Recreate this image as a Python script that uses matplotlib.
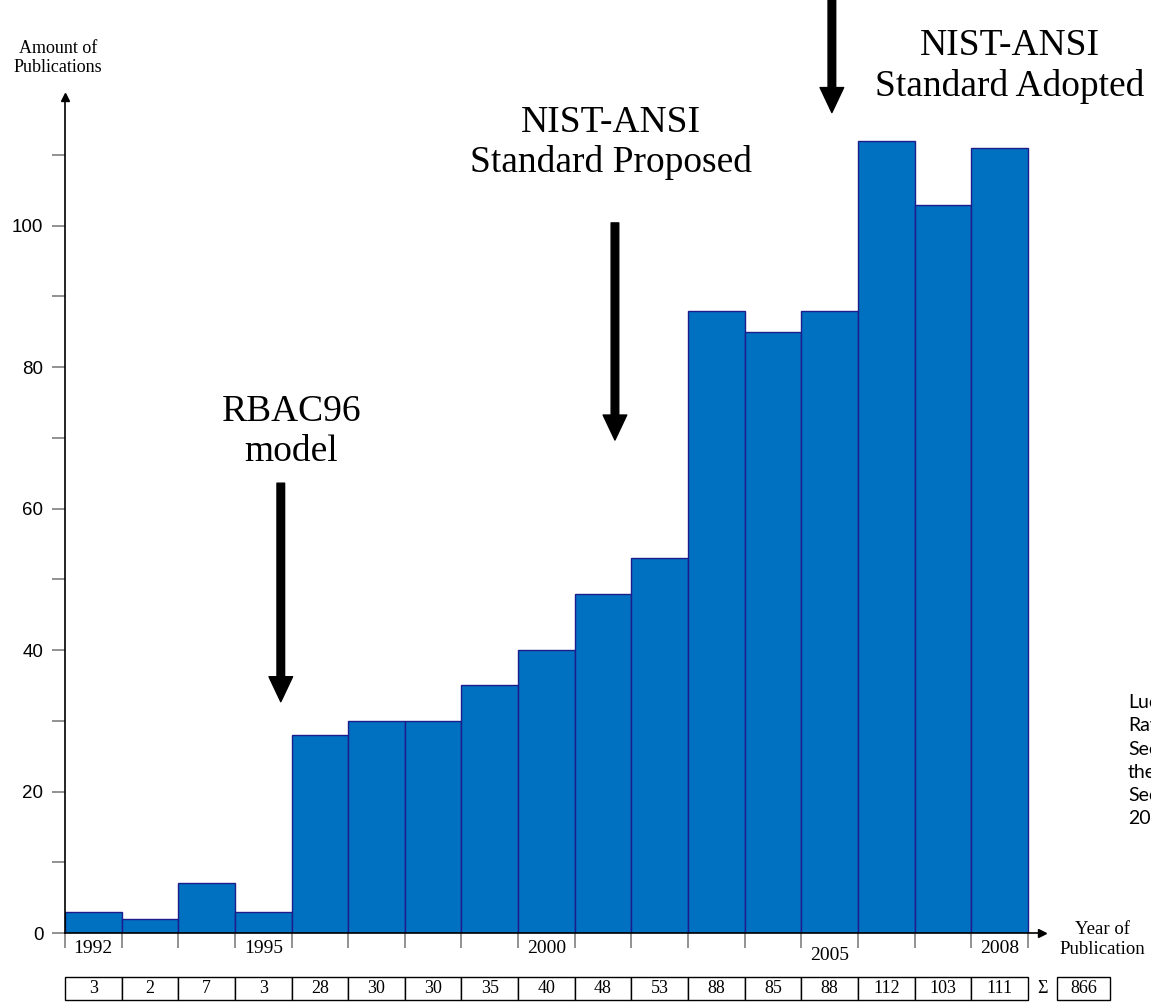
import matplotlib.pyplot as plt
from matplotlib.patches import Rectangle

# data
years = list(range(1992, 2009))
counts = [3, 2, 7, 3, 28, 30, 30, 35, 40, 48, 53, 88, 85, 88, 112, 103, 111]
year_labels = [1992, 1995, 2000, 2005, 2008]
total = sum(counts)

serif = "Liberation Serif"
sans = "Liberation Sans"

fig = plt.figure(figsize=(11.51, 10.05), dpi=100)
ax = fig.add_axes([65 / 1151, 72 / 1005, (1042 - 65) / 1151, (933 - 97) / 1005])

ax.bar(years, counts, width=1, align="edge", color="#0070C0",
       edgecolor="#1c1c8a", linewidth=1, zorder=2)

ax.set_xlim(1992, 2009.25)
ax.set_ylim(0, 118.2)

for s in ["top", "right"]:
    ax.spines[s].set_visible(False)
ax.spines["left"].set_linewidth(1.2)
ax.spines["bottom"].set_linewidth(1.2)

# arrow heads on the axes
ax.plot(1, 0, ">k", ms=6, transform=ax.transAxes, clip_on=False)
ax.plot(0, 1, "^k", ms=6, transform=ax.transAxes, clip_on=False)

# y ticks
ax.set_yticks([0, 20, 40, 60, 80, 100])
ax.set_yticks([10, 30, 50, 70, 90, 110], minor=True)
ax.tick_params(axis="y", which="both", length=9.5, width=1.2, color="#7f7f7f",
               pad=6, labelsize=13.5)
for lab in ax.get_yticklabels():
    lab.set_fontfamily(sans)

# x ticks at bin boundaries, labels at selected years
ax.set_xticks(years + [2009])
ax.set_xticklabels([])
ax.tick_params(axis="x", length=10.5, width=1.2, color="#7f7f7f", direction="out")
for y in year_labels:
    dy = -3.2 if y == 2005 else -2.2
    ax.text(y + 0.5, dy, str(y), ha="center", va="center", family=serif,
            fontsize=14, clip_on=False)

# axis titles
fig.text(58 / 1151, 1 - 58 / 1005, "Amount of\nPublications", ha="center",
         va="center", family=serif, fontsize=13)
ax.text(2010.32, -0.9, "Year of\nPublication", ha="center", va="center",
        family=serif, fontsize=13.5, clip_on=False)

# count table under the bars
row_top, row_bot = -6.2, -9.45
for y, c in zip(years, counts):
    ax.add_patch(Rectangle((y, row_bot), 1, row_top - row_bot, facecolor="white",
                           edgecolor="black", linewidth=1, clip_on=False))
    ax.text(y + 0.5, (row_top + row_bot) / 2, str(c), ha="center", va="center",
            family=serif, fontsize=13, clip_on=False)
ax.text(2009.25, (row_top + row_bot) / 2, "\u03a3", ha="center", va="center",
        family=serif, fontsize=13, clip_on=False)
ax.add_patch(Rectangle((2009.51, row_bot), 0.94, row_top - row_bot,
                       facecolor="white", edgecolor="black", linewidth=1,
                       clip_on=False))
ax.text(2009.98, (row_top + row_bot) / 2, str(total), ha="center", va="center",
        family=serif, fontsize=13, clip_on=False)

# event annotations
arrow = dict(facecolor="black", edgecolor="black", width=5.5, headwidth=17,
             headlength=18, shrink=0)
ax.annotate("", xy=(1995.81, 32.7), xytext=(1995.81, 63.6), arrowprops=arrow,
            annotation_clip=False)
ax.text(1996.0, 66.8, "RBAC96\nmodel", ha="center", va="baseline",
        family=serif, fontsize=27)

ax.annotate("", xy=(2001.71, 69.7), xytext=(2001.71, 100.4), arrowprops=arrow,
            annotation_clip=False)
ax.text(2001.64, 107.6, "NIST-ANSI\nStandard Proposed", ha="center",
        va="baseline", family=serif, fontsize=27)

ax.annotate("", xy=(2005.54, 116.0), xytext=(2005.54, 134.0), arrowprops=arrow,
            annotation_clip=False)
ax.text(2008.68, 118.4, "NIST-ANSI\nStandard Adopted", ha="center",
        va="baseline", family=serif, fontsize=27, clip_on=False)

# source note, cut by the right edge of the picture as in the original
fig.text(1128 / 1151, 1 - 694 / 1005,
         "Lucas\nRavi\nSecurity\nthe\nSecurity\n2010", ha="left", va="top",
         family="Lato", fontsize=14, linespacing=1.45)

fig.savefig("out.png", dpi=100)
